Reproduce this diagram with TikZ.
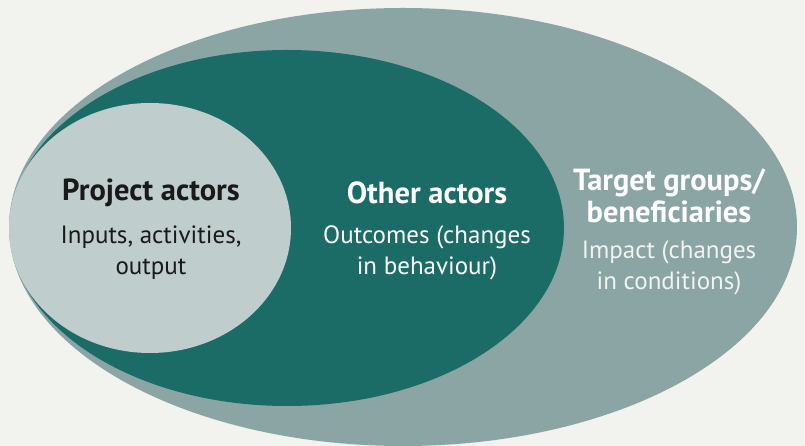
\documentclass[tikz,border=0pt]{standalone}
\usepackage{fontspec}
\setmainfont{PT Sans}
\usetikzlibrary{shapes.geometric}
\definecolor{bgpaper}{HTML}{F2F2EE}
\definecolor{outerteal}{HTML}{8AA5A3}
\definecolor{darkteal}{HTML}{1B6B67}
\definecolor{innergray}{HTML}{C0CDCD}
\definecolor{paletext}{HTML}{F0F4F3}

\begin{document}
\begin{tikzpicture}[x=1pt,y=1pt]
  \tikzstyle{ring}=[ellipse,draw=none,inner sep=0pt]
  \tikzstyle{title}=[align=center,font=\fontsize{30.5}{32}\selectfont\bfseries]
  \tikzstyle{body}=[align=center,font=\fontsize{25}{31}\selectfont]

  \fill[bgpaper] (0,0) rectangle (805,446);
  \useasboundingbox (0,0) rectangle (805,446);

  % nested circles of actors
  \node[ring,fill=outerteal,minimum width=788pt,minimum height=438pt] (target) at (403,219) {};
  \node[ring,fill=darkteal,minimum width=554pt,minimum height=356pt]  (other)  at (287,218) {};
  \node[ring,fill=innergray,minimum width=282pt,minimum height=250pt] (project) at (150,218) {};

  % labels
  \node[title,text=black!90] (projecttitle) at (151,253)   {Project actors};
  \node[body,text=black!90]  (projectbody)  at (151,193.5) {Inputs, activities,\\output};
  \node[title,text=white]    (othertitle)   at (427,253)   {Other actors};
  \node[body,text=white]     (otherbody)    at (427,193.5) {Outcomes (changes\\in behaviour)};
  \node[title,text=white]    (targettitle)  at (669,250)   {Target groups/\\beneficiaries};
  \node[body,text=paletext]  (targetbody)   at (669,178.5) {Impact (changes\\in conditions)};
\end{tikzpicture}
\end{document}
